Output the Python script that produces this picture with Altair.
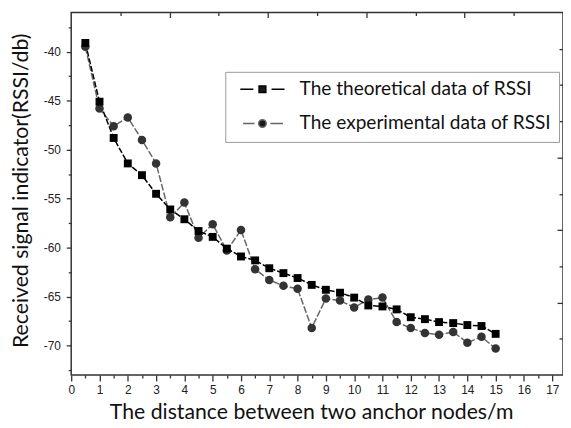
import altair as alt
import pandas as pd

# ---------------- data ----------------
distance = [0.5, 1.0, 1.5, 2.0, 2.5, 3.0, 3.5, 4.0, 4.5, 5.0,
            5.5, 6.0, 6.5, 7.0, 7.5, 8.0, 8.5, 9.0, 9.5, 10.0,
            10.5, 11.0, 11.5, 12.0, 12.5, 13.0, 13.5, 14.0, 14.5, 15.0]
theoretical = [-39.1, -45.1, -48.8, -51.4, -52.6, -54.5, -56.1, -57.1, -58.3, -58.9,
               -60.1, -60.9, -61.3, -62.1, -62.6, -63.1, -63.8, -64.3, -64.6, -65.1,
               -65.9, -66.0, -66.3, -67.1, -67.3, -67.6, -67.7, -67.9, -68.0, -68.8]
experimental = [-39.5, -45.8, -47.6, -46.7, -49.0, -51.4, -56.9, -55.4, -59.0, -57.6,
                -60.3, -58.2, -62.2, -63.3, -63.9, -64.2, -68.2, -65.2, -65.4, -66.1,
                -65.3, -65.1, -67.6, -68.2, -68.7, -68.9, -68.6, -69.7, -69.1, -70.3]
series_names = ["The theoretical data of RSSI", "The experimental data of RSSI"]

x_ticks_major = [0, 1, 2, 3, 4, 5, 6, 7, 8, 9, 10, 11, 12, 13, 14, 15, 16, 17]
x_ticks_minor = [0.5, 1.5, 2.5, 3.5, 4.5, 5.5, 6.5, 7.5, 8.5, 9.5, 10.5, 11.5,
                 12.5, 13.5, 14.5, 15.5, 16.5]
y_ticks_major = [-70, -65, -60, -55, -50, -45, -40]
y_ticks_minor = [-72.5, -67.5, -62.5, -57.5, -52.5, -47.5, -42.5, -37.5]

XDOM = [0, 17.38]
YDOM = [-73, -36]
top_major = [XDOM[1] * k / 10 for k in (2, 4, 6, 8)]
top_minor = [XDOM[1] * k / 10 for k in (1, 3, 5, 7, 9)]
right_major = [YDOM[0] + (YDOM[1] - YDOM[0]) * k / 10 for k in (2, 4, 6, 8)]
right_minor = [YDOM[0] + (YDOM[1] - YDOM[0]) * k / 10 for k in (1, 3, 5, 7, 9)]

df = pd.DataFrame({
    "distance": distance + distance,
    "rssi": theoretical + experimental,
    "series": [series_names[0]] * len(distance) + [series_names[1]] * len(distance),
})

xs = alt.Scale(domain=XDOM, nice=False, zero=False)
ys = alt.Scale(domain=YDOM, nice=False, zero=False)
base = alt.Chart(df)

AX = "#333333"
LABEL_FONT = "Liberation Sans"
TITLE_FONT = "Lato"


def axis_layer(xaxis, yaxis):
    return base.mark_point(opacity=0).encode(
        x=alt.X("distance:Q", scale=xs, axis=xaxis),
        y=alt.Y("rssi:Q", scale=ys, axis=yaxis),
    )


common = dict(domain=False, grid=False, tickColor=AX, tickWidth=1.3)

x_main = alt.Axis(orient="bottom", values=x_ticks_major, tickSize=6,
                  labelFont=LABEL_FONT, labelFontSize=12, labelColor="#222222",
                  labelPadding=4, labelFlush=False, labelOverlap=False,
                  labelExpr="'' + datum.value",
                  title="The distance between two anchor nodes/m",
                  titleFont=TITLE_FONT, titleFontSize=21.5, titleFontWeight="normal",
                  titleColor="#111111", titleX=243, titleY=44,
                  titleBaseline="alphabetic", titleAlign="center", **common)
y_main = alt.Axis(orient="left", values=y_ticks_major, tickSize=5,
                  labelFont=LABEL_FONT, labelFontSize=12, labelColor="#222222",
                  labelPadding=6, labelFlush=False, labelOverlap=False,
                  labelExpr="'' + datum.value",
                  title="Received signal indicator(RSSI/db)",
                  titleFont=TITLE_FONT, titleFontSize=21.5, titleFontWeight="normal",
                  titleColor="#111111", titleX=-44, titleY=180, titleAngle=270,
                  titleBaseline="alphabetic", titleAlign="center", **common)
x_minor = alt.Axis(orient="bottom", values=x_ticks_minor, tickSize=3, labels=False,
                   title="", **common)
y_minor = alt.Axis(orient="left", values=y_ticks_minor, tickSize=3, labels=False,
                   title="", **common)
x_top = alt.Axis(orient="top", values=top_major, tickSize=5, offset=-5, labels=False,
                 title="", **common)
x_top_minor = alt.Axis(orient="top", values=top_minor, tickSize=3, offset=-3,
                       labels=False, title="", **common)
y_right = alt.Axis(orient="right", values=right_major, tickSize=6, offset=-6,
                   labels=False, title="", **common)
y_right_minor = alt.Axis(orient="right", values=right_minor, tickSize=4, offset=-4,
                         labels=False, title="", **common)

enc_noaxis = dict(
    x=alt.X("distance:Q", scale=xs, axis=None),
    y=alt.Y("rssi:Q", scale=ys, axis=None),
)

theo = base.transform_filter(alt.datum.series == series_names[0])
expe = base.transform_filter(alt.datum.series == series_names[1])

theo_line = theo.mark_line(color="#000000", strokeWidth=1.5, strokeDash=[6, 2]).encode(**enc_noaxis)
exp_line = expe.mark_line(color="#666666", strokeWidth=1.5, strokeDash=[7, 2]).encode(**enc_noaxis)
theo_pts = theo.mark_point(shape="square", filled=True, size=64, color="#000000",
                           opacity=1).encode(**enc_noaxis)
exp_pts = expe.mark_point(shape="circle", filled=True, size=74, color="#333333",
                          opacity=1).encode(**enc_noaxis)

sq_path = "M-5.6,0L-2.3,0M2.3,0L5.6,0M-0.85,-0.85L0.85,-0.85L0.85,0.85L-0.85,0.85Z"
ci_path = ("M-4.9,0L-2,0M2,0L5.2,0M-0.95,0A0.95,0.95,0,1,1,0.95,0"
           "A0.95,0.95,0,1,1,-0.95,0Z")

legend_spec = alt.Legend(title=None, orient="none", legendX=156, legendY=60,
                         padding=8, strokeColor="#999999", fillColor="white",
                         symbolSize=64, symbolOffset=20, symbolStrokeWidth=1.5,
                         symbolOpacity=1, labelOffset=28, labelFont=TITLE_FONT,
                         labelFontSize=19.3, labelColor="#111111", rowPadding=14.7,
                         labelLimit=400)

legend_layer = base.mark_point(filled=False, fill="#1a1a1a", opacity=0,
                               strokeWidth=1.5).encode(
    x=alt.X("distance:Q", scale=xs, axis=None),
    y=alt.Y("rssi:Q", scale=ys, axis=None),
    color=alt.Color("series:N", scale=alt.Scale(domain=series_names,
                                                range=["#000000", "#666666"]),
                    legend=legend_spec),
    shape=alt.Shape("series:N", scale=alt.Scale(domain=series_names,
                                                range=[sq_path, ci_path]),
                    legend=legend_spec),
)

chart = alt.layer(
    axis_layer(x_main, y_main),
    axis_layer(x_minor, y_minor),
    axis_layer(x_top, y_right),
    axis_layer(x_top_minor, y_right_minor),
    exp_line, theo_line, exp_pts, theo_pts, legend_layer,
).resolve_axis(x="independent", y="independent").properties(
    width=498, height=367,
    autosize=alt.AutoSizeParams(type="none"),
    padding={"left": 64, "top": 2, "right": 0, "bottom": 48},
).configure_view(stroke=AX, strokeWidth=1.5).configure_axis(grid=False)

chart.save("out.html", embed_options={"renderer": "svg", "actions": False})
